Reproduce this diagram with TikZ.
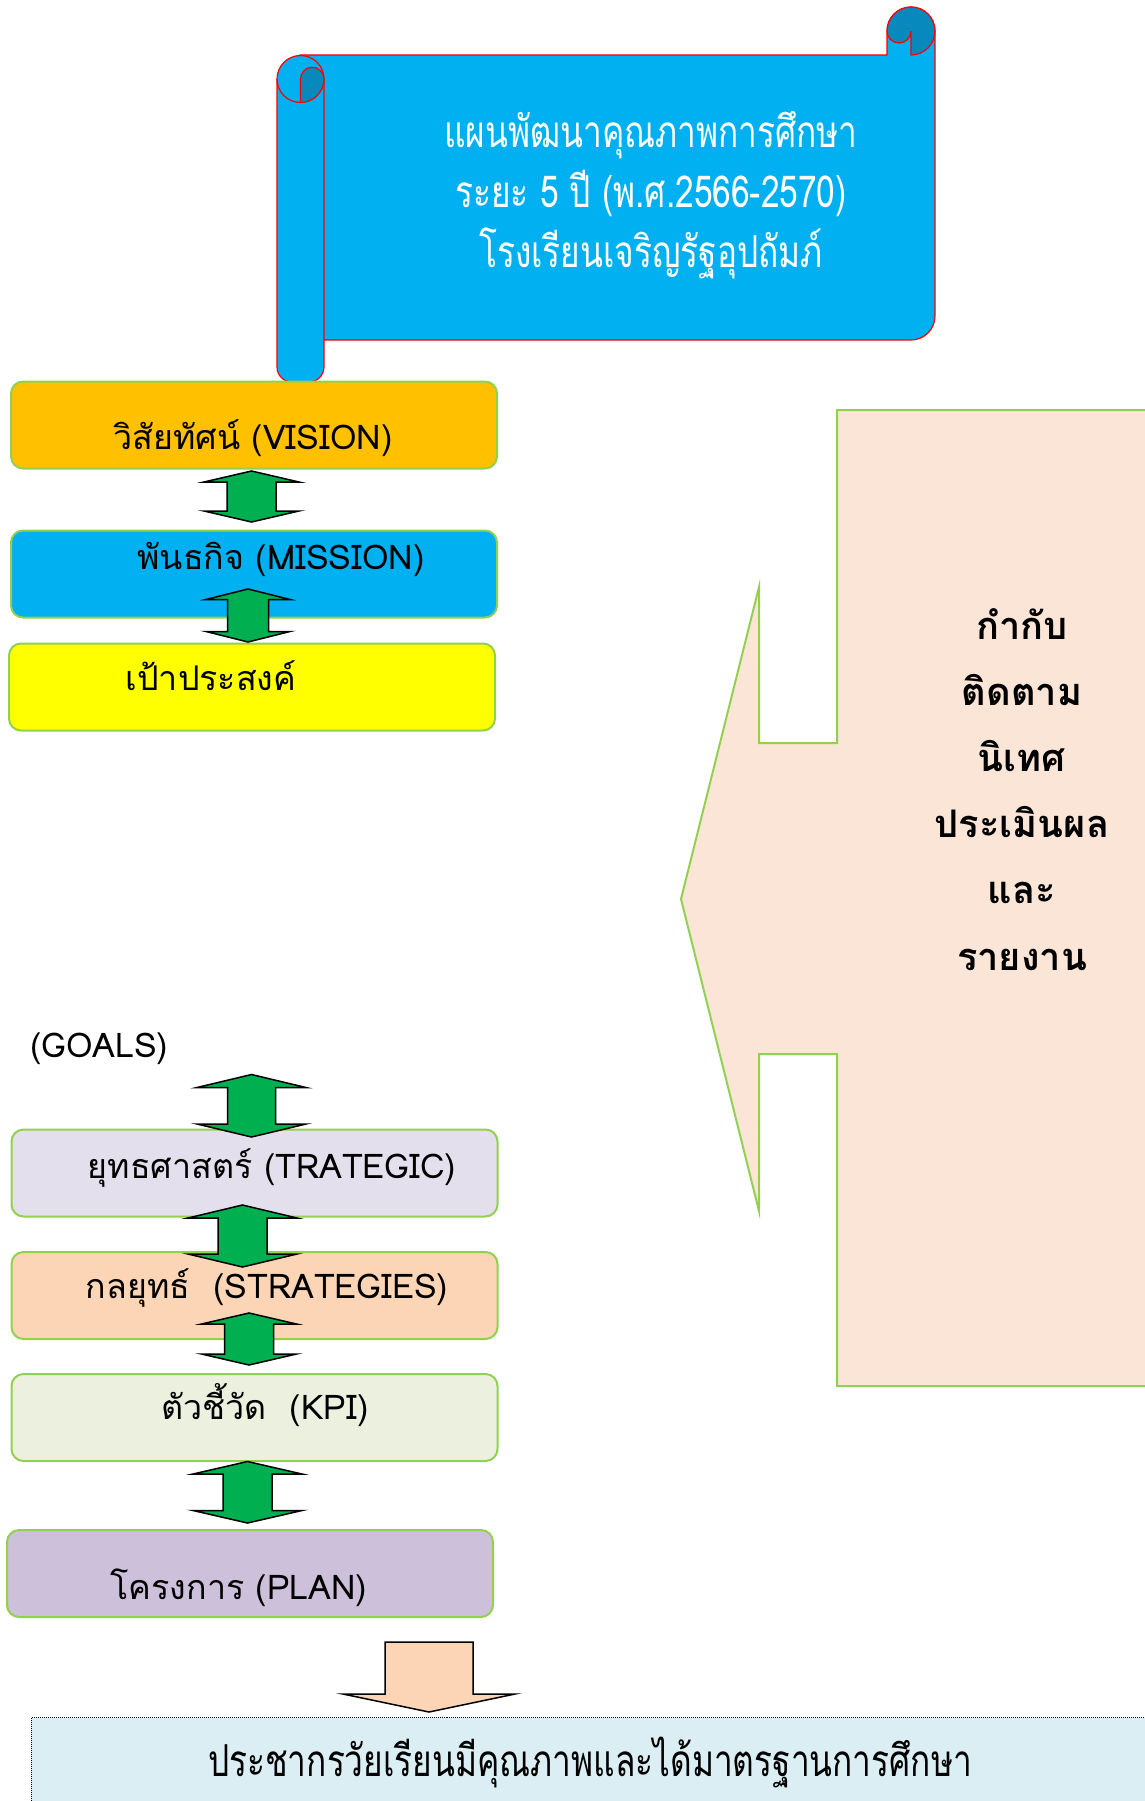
\documentclass[tikz,border=0pt]{standalone}
\usepackage{fontspec}
\setmainfont[Script=Thai]{Loma}
\newfontfamily\narrowthai[Script=Thai,FakeStretch=0.76]{Loma}
\usepackage{tikz}

\definecolor{scrollblue}{HTML}{00B0F0}
\definecolor{scrolldark}{HTML}{0889BE}
\definecolor{visionfill}{HTML}{FFC000}
\definecolor{missionfill}{HTML}{00B0F0}
\definecolor{goalfill}{HTML}{FFFF00}
\definecolor{stratfill}{HTML}{E4DFEC}
\definecolor{tacticfill}{HTML}{FBD5B5}
\definecolor{kpifill}{HTML}{EBF1DE}
\definecolor{planfill}{HTML}{CCC0DA}
\definecolor{arrowgreen}{HTML}{00B050}
\definecolor{edgegreen}{HTML}{92D050}
\definecolor{monitorfill}{HTML}{FBE5D6}
\definecolor{resultfill}{HTML}{DAEEF3}

\tikzset{
    scroll/.style={draw=red, line width=1.2pt, fill=scrollblue},
    scrollcurl/.style={draw=red, line width=1.2pt, fill=scrolldark},
    stagebox/.style={draw=edgegreen, line width=2pt, rounded corners=12pt,
        minimum width=486, minimum height=87, inner sep=0pt},
    stagetext/.style={anchor=base, inner sep=0pt, font=\fontsize{34}{40}\selectfont},
    titletext/.style={anchor=base, inner sep=0pt, text=white,
        font=\narrowthai\fontsize{44}{50}\selectfont},
    dblarrow/.style={draw=black, line width=1.5pt, fill=arrowgreen, line join=miter},
}

% cx, top, bottom, head half width, shaft half width, head height
\newcommand{\updown}[6]{%
    \draw[dblarrow] (#1,#2) -- (#1+#4,#2+#6) -- (#1+#5,#2+#6) -- (#1+#5,#3-#6)
        -- (#1+#4,#3-#6) -- (#1,#3) -- (#1-#4,#3-#6) -- (#1-#5,#3-#6)
        -- (#1-#5,#2+#6) -- (#1-#4,#2+#6) -- cycle;}

\begin{document}
\begin{tikzpicture}[x=1pt, y=-1pt]
    \useasboundingbox (0,0) rectangle (1144,1801);

    % scroll
    \draw[scroll] (324,340) -- (911,340) arc[start angle=90, end angle=0, radius=24]
        -- (935,31) arc[start angle=0, end angle=-180, radius=24]
        -- (887,55) -- (300,55) -- (300,340) -- cycle;
    \draw[scrollcurl] (911,55) -- (911,31) arc[start angle=0, end angle=180, radius=12]
        arc[start angle=180, end angle=360, radius=24]
        arc[start angle=0, end angle=90, radius=24] -- cycle;
    \draw[scroll] (324,79) -- (324,367) arc[start angle=0, end angle=90, radius=15]
        -- (292,382) arc[start angle=90, end angle=180, radius=15]
        -- (277,79) arc[start angle=180, end angle=360, radius=23.5] -- cycle;
    \draw[scrollcurl] (300.5,102.5) -- (300.5,79) arc[start angle=180, end angle=360, radius=11.75]
        arc[start angle=0, end angle=90, radius=23.5] -- cycle;
    \draw[red, line width=1.2pt] (277,79) arc[start angle=180, end angle=90, radius=23.5];

    \node[titletext] (title1) at (651,147) {แผนพัฒนาคุณภาพการศึกษา};
    \node[titletext] (title2) at (651,207) {ระยะ 5 ปี (พ.ศ.2566-2570)};
    \node[titletext] (title3) at (651,267) {โรงเรียนเจริญรัฐอุปถัมภ์};

    % stages
    \node[stagebox, fill=visionfill] (vision) at (254,425) {};
    \node[stagebox, fill=missionfill] (mission) at (254,574) {};
    \node[stagebox, fill=goalfill] (goal) at (252,687) {};
    \node[stagebox, fill=stratfill] (strategic) at (254.5,1173) {};
    \node[stagebox, fill=tacticfill] (strategies) at (254.5,1295.5) {};
    \node[stagebox, fill=kpifill] (kpi) at (254.5,1417.5) {};
    \node[stagebox, fill=planfill] (plan) at (250,1573.5) {};

    \node[stagetext] (visiontxt) at (253,449) {วิสัยทัศน์ (VISION)};
    \node[stagetext] (missiontxt) at (281,569) {พันธกิจ (MISSION)};
    \node[stagetext] (goaltxt) at (211,690) {เป้าประสงค์};
    \node[stagetext, anchor=base west] (goalstxt) at (30,1057) {(GOALS)};
    \node[stagetext] (strategictxt) at (272,1178) {ยุทธศาสตร์ (TRATEGIC)};
    \node[stagetext] (strategiestxt) at (267,1298) {กลยุทธ์ ~(STRATEGIES)};
    \node[stagetext] (kpitxt) at (265,1419) {ตัวชี้วัด ~(KPI)};
    \node[stagetext] (plantxt) at (239,1599) {โครงการ (PLAN)};

    \updown{251.5}{471}{522}{47.5}{24.5}{11}
    \updown{248}{589}{642}{42}{20.5}{10.5}
    \updown{251.5}{1074.5}{1137}{54.5}{24}{13}
    \updown{242.5}{1205}{1267}{54.5}{24.5}{13}
    \updown{249}{1313}{1365}{47.5}{24.5}{11}
    \updown{247.5}{1461.5}{1523}{54.5}{24.5}{12.5}

    % monitoring callout
    \draw[draw=edgegreen, line width=2pt, fill=monitorfill]
        (1150,410) -- (837,410) -- (837,743) -- (759,743) -- (759,587) -- (681,899)
        -- (759,1211) -- (759,1054) -- (837,1054) -- (837,1386) -- (1150,1386);
    \foreach \txt [count=\i] in {กำกับ, ติดตาม, นิเทศ, ประเมินผล, และ, รายงาน}
        \node[anchor=base, inner sep=0pt, font=\bfseries\fontsize{38}{40}\selectfont]
            (monitor\i) at (1022,{639+66.2*(\i-1)}) {\txt};

    % result
    \draw[black, line width=1.5pt, fill=tacticfill, line join=miter]
        (385,1642) -- (473,1642) -- (473,1694) -- (515,1694) -- (429,1712)
        -- (343,1694) -- (385,1694) -- cycle;
    \node[draw=black, line width=1pt, densely dotted, fill=resultfill, anchor=north west,
        minimum width=1130, minimum height=100, inner sep=0pt] (result) at (31,1717) {};
    \node[anchor=base, inner sep=0pt, font=\narrowthai\fontsize{44}{50}\selectfont]
        (resulttxt) at (590,1776) {ประชากรวัยเรียนมีคุณภาพและได้มาตรฐานการศึกษา};
\end{tikzpicture}
\end{document}
